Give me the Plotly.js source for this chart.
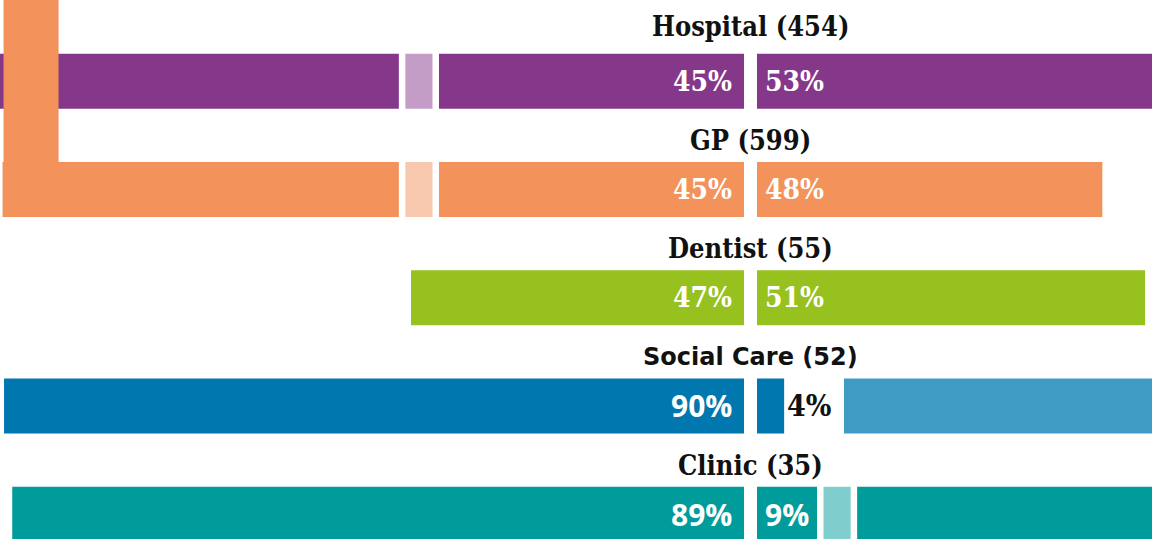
<!DOCTYPE html>
<html>
<head>
<meta charset="utf-8">
<script src="https://cdn.plot.ly/plotly-3.0.1.min.js"></script>
<style>
  html, body { margin: 0; padding: 0; background: #ffffff; }
  #chart { width: 1152px; height: 539px; }
</style>
</head>
<body>
<div id="chart"></div>
<script>
// ---------------- data ----------------
const services    = ['Hospital', 'GP', 'Dentist', 'Social Care', 'Clinic'];
const respondents = [454, 599, 55, 52, 35];
const leftPct     = ['45%', '45%', '47%', '90%', '89%'];
const rightPct    = ['53%', '48%', '51%', '4%', '9%'];
// bar segment lengths (chart units), listed from the centre outwards
const leftInner   = [37.1, 37.1, 40.5, 90.0, 89.0];
const leftMiddle  = [3.3, 3.3, 0, 0, 0];
const leftOuter   = [50, 48.2, 0, 0, 0];
const rightInner  = [50, 42.0, 47.2, 3.3, 7.3];
const rightMiddle = [0, 0, 0, 5.7, 3.3];
const rightOuter  = [0, 0, 0, 40, 40];

// ---------------- styles ----------------
const dark   = ['#85388A', '#F3925A', '#96C11F', '#0077AE', '#009B9B'];
const light  = ['#C49DC7', '#F8C9AE', '#96C11F', 'rgba(0,0,0,0)', '#80CDCD'];
const outerR = ['#85388A', '#F3925A', '#96C11F', '#409BC4', '#009B9B'];
const GAP = 0.79;                 // gap between segments (chart units)
const SERIF = 'DejaVu Serif Condensed, DejaVu Serif, serif';
const SANS  = 'Open Sans, DejaVu Sans, sans-serif';
const titleFont = [SERIF, SERIF, SERIF, 'DejaVu Sans, sans-serif', SERIF];
const titleSize = [27, 27, 27, 24, 27];
const titleLift = [55, 49, 49, 49, 49];
const leftFont  = [SERIF, SERIF, SERIF, SANS, SANS];
const rightFont = [SERIF, SERIF, SERIF, SERIF, SANS];
const rightInside = [true, true, true, false, true];
const pctSize = (f, inside) => (f === SANS ? 30 : (inside ? 28 : 30));

// ---------------- build segments ----------------
function buildSide(segs, sign) {
  const out = segs.map(() => ({ base: [], len: [] }));
  services.forEach((s, i) => {
    let edge = sign * GAP;
    segs.forEach((arr, k) => {
      const v = arr[i];
      out[k].base.push(sign < 0 ? edge - v : edge);
      out[k].len.push(v);
      if (v > 0) edge += sign * (v + GAP);
    });
  });
  return out;
}
const L = buildSide([leftInner, leftMiddle, leftOuter], -1);
const R = buildSide([rightInner, rightMiddle, rightOuter], 1);
const colorsL = [dark, light, dark];
const colorsR = [dark, light, outerR];

const traces = [];
L.forEach((seg, k) => traces.push({
  type: 'bar', orientation: 'h', y: services, x: seg.len, base: seg.base,
  marker: { color: colorsL[k], line: { width: 0 } }, hoverinfo: 'skip', showlegend: false
}));
R.forEach((seg, k) => traces.push({
  type: 'bar', orientation: 'h', y: services, x: seg.len, base: seg.base,
  marker: { color: colorsR[k], line: { width: 0 } }, hoverinfo: 'skip', showlegend: false
}));

// ---------------- annotations ----------------
const annotations = [];
services.forEach((s, i) => {
  annotations.push({
    x: 0, y: s, xref: 'x', yref: 'y', text: s + ' (' + respondents[i] + ')',
    showarrow: false, xanchor: 'center', yanchor: 'middle', yshift: titleLift[i],
    font: { family: titleFont[i], size: titleSize[i], color: '#111111', weight: 700 }
  });
  annotations.push({
    x: -GAP, y: s, xref: 'x', yref: 'y', text: leftPct[i],
    showarrow: false, xanchor: 'right', yanchor: 'middle', xshift: -10,
    font: { family: leftFont[i], size: pctSize(leftFont[i], true), color: '#ffffff', weight: 700 }
  });
  const inside = rightInside[i];
  annotations.push({
    x: inside ? GAP : GAP + rightInner[i], y: s, xref: 'x', yref: 'y', text: rightPct[i],
    showarrow: false, xanchor: 'left', yanchor: 'middle', xshift: inside ? 6 : 1,
    font: { family: rightFont[i], size: pctSize(rightFont[i], inside), color: inside ? '#ffffff' : '#111111', weight: 700 }
  });
});

// decorative orange stem rising from the GP bar
const gpIdx = services.indexOf('GP');
const shapes = [{
  type: 'rect', xref: 'x', yref: 'y', xsizemode: 'pixel', xanchor: L[2].base[gpIdx],
  x0: 1, x1: 56, y0: gpIdx, y1: -2, fillcolor: '#F3925A', line: { width: 0 }, layer: 'above'
}];

const layout = {
  width: 1152, height: 539,
  margin: { l: 0, r: 0, t: 0, b: 0 },
  paper_bgcolor: '#ffffff', plot_bgcolor: '#ffffff',
  barmode: 'overlay', bargap: 0.492,
  xaxis: { range: [-91.28, 48.83], visible: false, fixedrange: true },
  yaxis: { type: 'category', categoryorder: 'array', categoryarray: services,
           range: [4.23, -0.751], visible: false, fixedrange: true },
  annotations: annotations,
  shapes: shapes,
  showlegend: false
};

Plotly.newPlot('chart', traces, layout, { displayModeBar: false, staticPlot: true });
</script>
</body>
</html>
